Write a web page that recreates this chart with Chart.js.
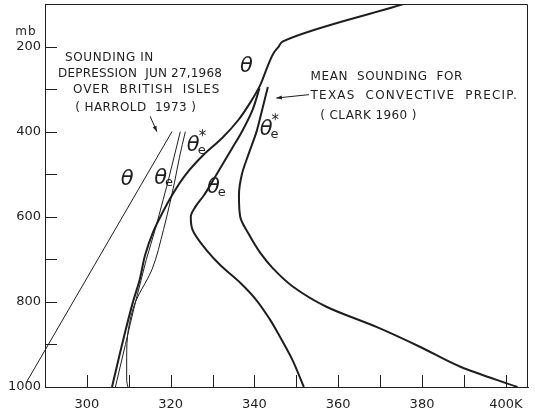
<!DOCTYPE html>
<html>
<head>
<meta charset="utf-8">
<script src="https://cdn.jsdelivr.net/npm/chart.js@4"></script>
<style>
  html, body { margin: 0; padding: 0; background: #fff; }
  #wrap { width: 535px; height: 413px; }
</style>
</head>
<body>
<div id="wrap"><canvas id="c"></canvas></div>
<script>
/* soundings: pressure (mb) vs potential temperature (K) */

// axis ticks / labels
const tempTicks = [290, 300, 310, 320, 330, 340, 350, 360, 370, 380, 390, 400];
const tempLabels = [300, 320, 340, 360, 380, 400];
const presLabels = [200, 400, 600, 800, 1000];

// Harrold 1973 – depression over British Isles (thin lines)
const harroldThetaP = [400, 990];
const harroldThetaK = [320.3, 285.5];

const harroldThetaEP = [400, 460, 520, 560, 630, 700, 750, 800, 900, 1000];
const harroldThetaEK = [322.3, 320.8, 319.3, 318.2, 316.3, 314.2, 312.9, 311.6, 309.2, 306.8];

const harroldThetaEsP = [400, 460, 520, 560, 630, 725, 800, 865, 930, 985, 1000];
const harroldThetaEsK = [323.5, 322.1, 320.9, 320.0, 318.3, 315.5, 311.6, 309.9, 309.5, 309.5, 309.8];

// Clark 1960 – mean sounding, Texas convective precip. (thick lines)
const clarkThetaP = [100, 188, 200, 215, 250, 290, 330, 372, 415, 455, 502, 548, 591, 636, 690, 748, 800, 900, 1000];
const clarkThetaK = [375.6, 346.8, 345.8, 344.6, 343.0, 341.4, 339.1, 336.2, 332.3, 327.8, 323.5, 320.4, 318.0, 315.8, 313.9, 312.6, 311.0, 308.4, 306.0];

const clarkThetaEP = [298, 350, 400, 440, 483, 520, 550, 575, 600, 630, 680, 715, 755, 795, 840, 875, 935, 1000];
const clarkThetaEK = [341.2, 339.5, 337.0, 334.6, 332.0, 329.8, 327.9, 326.0, 324.8, 325.2, 328.7, 332.0, 336.6, 340.4, 343.6, 345.7, 349.0, 351.8];

const clarkThetaEsP = [295, 350, 400, 450, 500, 550, 600, 640, 685, 720, 765, 812, 860, 906, 953, 1000];
const clarkThetaEsK = [343.2, 341.8, 340.5, 338.7, 337.0, 336.3, 336.6, 338.6, 341.4, 344.3, 349.3, 357.3, 369.4, 379.6, 389.3, 402.8];

// annotations, placed in data units (K, mb)
const notes = [
  { text: 'SOUNDING IN', k: 294.8, p: 226 },
  { text: 'DEPRESSION  JUN 27,1968', k: 293.1, p: 264, spacing: 0.2 },
  { text: 'OVER  BRITISH  ISLES', k: 296.7, p: 301, spacing: 0.9 },
  { text: '( HARROLD  1973 )', k: 297.2, p: 344, spacing: 0.4 },
  { text: 'MEAN  SOUNDING  FOR', k: 353.4, p: 272 },
  { text: 'TEXAS  CONVECTIVE  PRECIP.', k: 353.4, p: 317, spacing: 1.2 },
  { text: '( CLARK 1960 )', k: 355.7, p: 364, spacing: 0.4 }
];
const symbols = [
  { k: 309.6, p: 513, sub: false, star: false },
  { k: 317.6, p: 509, sub: true, star: false },
  { k: 325.4, p: 433, sub: true, star: true },
  { k: 338.1, p: 248, sub: false, star: false },
  { k: 342.8, p: 396, sub: true, star: true },
  { k: 330.2, p: 532, sub: true, star: false }
];
const arrows = [
  { k1: 315.1, p1: 364, k2: 316.7, p2: 400 },
  { k1: 353.0, p1: 313, k2: 345.2, p2: 321 }
];

const ink = '#1e1e1e';
const pts = (ks, ps) => ks.map((k, i) => ({ x: k, y: ps[i] }));

function line(ks, ps, w, clip) {
  return {
    data: pts(ks, ps),
    borderColor: ink,
    borderWidth: w,
    pointRadius: 0,
    fill: false,
    cubicInterpolationMode: 'monotone',
    clip: clip
  };
}

function noPad(s) {
  s.paddingTop = 0;
  s.paddingBottom = 0;
  s.paddingLeft = 0;
  s.paddingRight = 0;
}

const innerTicks = {
  id: 'innerTicks',
  afterDraw(chart) {
    const { ctx, chartArea: a, scales: { x, y } } = chart;
    ctx.save();
    ctx.strokeStyle = ink;
    ctx.lineWidth = 1;
    // frame top and right
    ctx.beginPath();
    ctx.moveTo(a.left, a.top + 0.5);
    ctx.lineTo(a.right - 0.5, a.top + 0.5);
    ctx.lineTo(a.right - 0.5, a.bottom);
    ctx.stroke();
    ctx.beginPath();
    x.ticks.forEach(t => {
      if (t.value <= x.min || t.value >= x.max) return;
      const px = Math.round(x.getPixelForValue(t.value)) + 0.5;
      ctx.moveTo(px, a.bottom);
      ctx.lineTo(px, a.bottom - 12);
    });
    y.ticks.forEach(t => {
      if (t.value <= y.min || t.value >= y.max) return;
      const py = Math.round(y.getPixelForValue(t.value)) + 0.5;
      ctx.moveTo(a.left, py);
      ctx.lineTo(a.left + 12, py);
    });
    ctx.stroke();

    // "mb" unit
    ctx.fillStyle = ink;
    ctx.font = '12px "DejaVu Sans"';
    ctx.textAlign = 'center';
    ctx.textBaseline = 'middle';
    ctx.letterSpacing = '1px';
    ctx.fillText('mb', 26, 32);
    ctx.restore();
  }
};

const notesPlugin = {
  id: 'notes',
  afterDatasetsDraw(chart) {
    const { ctx, scales: { x, y } } = chart;
    ctx.save();
    ctx.fillStyle = ink;
    ctx.strokeStyle = ink;
    ctx.textBaseline = 'middle';
    ctx.textAlign = 'left';
    ctx.font = '12px "DejaVu Sans"';
    notes.forEach(n => {
      ctx.letterSpacing = (n.spacing ?? 0.6) + 'px';
      ctx.fillText(n.text, x.getPixelForValue(n.k), y.getPixelForValue(n.p));
    });
    ctx.letterSpacing = '0px';

    symbols.forEach(s => {
      const cx = x.getPixelForValue(s.k), cy = y.getPixelForValue(s.p);
      ctx.font = 'italic 21px "DejaVu Sans"';
      const w = ctx.measureText('θ').width;
      const x0 = cx - w / 2;
      ctx.fillText('θ', x0, cy);
      if (s.sub) {
        ctx.font = '13px "DejaVu Sans"';
        ctx.fillText('e', x0 + w - 2, cy + 5);
      }
      if (s.star) {
        ctx.font = '15px "DejaVu Sans"';
        ctx.fillText('*', x0 + w - 1, cy - 9);
      }
    });

    ctx.lineWidth = 1;
    arrows.forEach(ar => {
      const x1 = x.getPixelForValue(ar.k1), y1 = y.getPixelForValue(ar.p1);
      const x2 = x.getPixelForValue(ar.k2), y2 = y.getPixelForValue(ar.p2);
      const ang = Math.atan2(y2 - y1, x2 - x1);
      ctx.beginPath();
      ctx.moveTo(x1, y1);
      ctx.lineTo(x2, y2);
      ctx.stroke();
      ctx.beginPath();
      ctx.moveTo(x2, y2);
      ctx.lineTo(x2 - 6 * Math.cos(ang - 0.35), y2 - 6 * Math.sin(ang - 0.35));
      ctx.lineTo(x2 - 6 * Math.cos(ang + 0.35), y2 - 6 * Math.sin(ang + 0.35));
      ctx.closePath();
      ctx.fill();
    });
    ctx.restore();
  }
};

new Chart(document.getElementById('c'), {
  type: 'line',
  data: {
    datasets: [
      line(harroldThetaK, harroldThetaP, 1, false),
      line(harroldThetaEK, harroldThetaEP, 1, true),
      line(harroldThetaEsK, harroldThetaEsP, 1, true),
      line(clarkThetaK, clarkThetaP, 2, true),
      line(clarkThetaEK, clarkThetaEP, 2, true),
      line(clarkThetaEsK, clarkThetaEsP, 2, true)
    ]
  },
  options: {
    indexAxis: 'y',
    responsive: true,
    maintainAspectRatio: false,
    animation: false,
    layout: { padding: { top: 4, right: 7, left: 0, bottom: 0 } },
    plugins: { legend: { display: false }, tooltip: { enabled: false } },
    scales: {
      x: {
        type: 'linear',
        min: 290,
        max: 405.3,
        afterBuildTicks: s => { s.ticks = tempTicks.map(v => ({ value: v })); },
        afterFit: s => { s.height = 26; noPad(s); },
        grid: { drawOnChartArea: false, drawTicks: false },
        border: { display: true, color: ink, width: 1 },
        ticks: {
          autoSkip: false,
          maxRotation: 0,
          padding: 10,
          color: ink,
          font: { family: 'DejaVu Sans', size: 13 },
          callback: v => v === 400 ? '400K' : (tempLabels.includes(v) ? String(v) : '')
        }
      },
      y: {
        type: 'linear',
        reverse: true,
        min: 100,
        max: 1000,
        afterFit: s => { s.width = 45; noPad(s); },
        grid: { drawOnChartArea: false, drawTicks: false },
        border: { display: true, color: ink, width: 1 },
        ticks: {
          stepSize: 100,
          autoSkip: false,
          padding: 4,
          color: ink,
          font: { family: 'DejaVu Sans', size: 13 },
          callback: v => presLabels.includes(v) ? String(v) : ''
        }
      }
    }
  },
  plugins: [innerTicks, notesPlugin]
});
</script>
</body>
</html>
